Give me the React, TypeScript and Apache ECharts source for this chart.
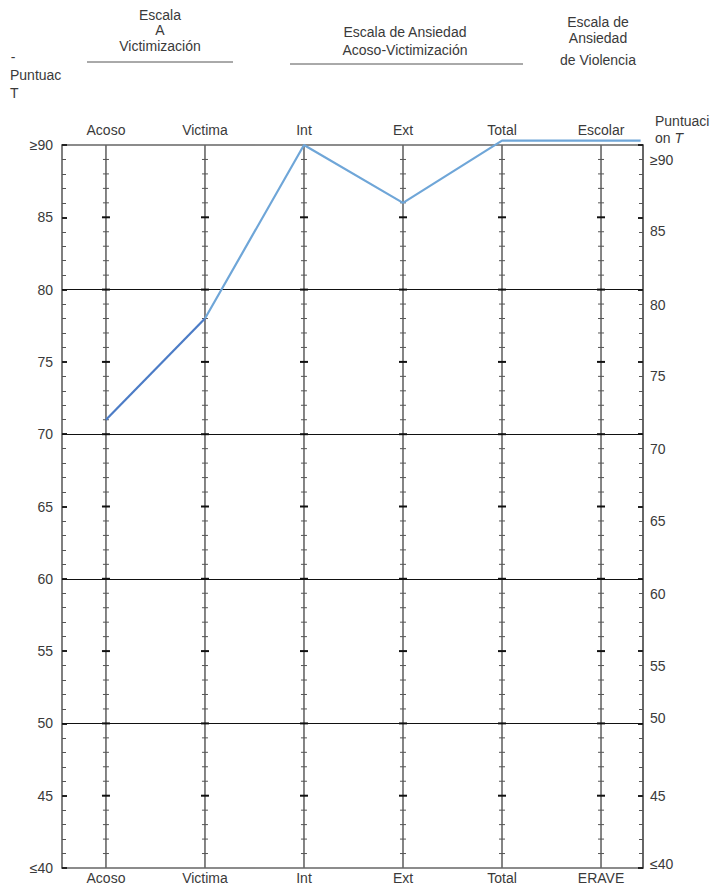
import React, { useEffect, useRef } from "react";
import * as echarts from "echarts";

// ---- data ----
const topLabels = ["Acoso", "Victima", "Int", "Ext", "Total", "Escolar"];
const bottomLabels = ["Acoso", "Victima", "Int", "Ext", "Total", "ERAVE"];
const categoryPositions = [0, 1, 2, 3, 4, 5];
// first segment (Acoso -> Victima), drawn darker
const scoresA: [number, number][] = [
  [0, 71],
  [1, 78],
];
// rest of the profile
const scoresB: [number, number][] = [
  [1, 78],
  [2, 90],
  [3, 86],
  [4, 90.3],
  [5, 90.3],
  [5.4, 90.3],
];
const yTickValues = [40, 45, 50, 55, 60, 65, 70, 75, 80, 85, 90];
const refLines = [80, 70, 60, 50];
// offset of each right-hand label from its tick (as in the scan)
const rightLabelShift: Record<number, number> = {
  90: 15, 85: 14, 80: 15, 75: 14, 70: 15, 65: 14, 60: 15, 55: 15, 50: -5, 45: 0, 40: -4,
};

const FONT = '"Liberation Sans", Arial, sans-serif';
const TXT = "#3a3a3a";
const FS = 14;

function yLabel(v: number) {
  if (v === 90) return "≥90";
  if (v === 40) return "≤40";
  return String(v);
}

export default function App() {
  const ref = useRef<HTMLDivElement>(null);
  useEffect(() => {
    if (!ref.current) return;
    const chart = echarts.init(ref.current, null, { renderer: "svg" });

    const rich: Record<string, any> = {};
    yTickValues.forEach((v) => {
      const s = rightLabelShift[v] || 0;
      rich["o" + v] = {
        fontSize: FS,
        fontFamily: FONT,
        color: TXT,
        padding: s >= 0 ? [2 * s, 0, 0, 0] : [0, 0, -2 * s, 0],
      };
    });

    const txt = (text: string, x: number, y: number, align = "center") => ({
      type: "text",
      silent: true,
      style: { text, x, y, textAlign: align, textVerticalAlign: "middle", fill: TXT, font: `${FS}px ${FONT}` },
    });

    const option: any = {
      animation: false,
      backgroundColor: "#ffffff",
      textStyle: { fontFamily: FONT },
      grid: { left: 62, right: 77, top: 145, bottom: 18, containLabel: false },
      xAxis: [
        {
          type: "value",
          position: "bottom",
          min: -0.444,
          max: 5.424,
          axisLine: { show: true, onZero: false, lineStyle: { color: "#666", width: 1.5 } },
          axisTick: { show: false },
          splitLine: { show: false },
          axisLabel: {
            show: true,
            customValues: categoryPositions,
            formatter: (v: number) => bottomLabels[Math.round(v)] ?? "",
            color: TXT,
            fontSize: FS,
            fontFamily: FONT,
            margin: 3,
          },
        },
        {
          type: "value",
          position: "top",
          min: -0.444,
          max: 5.424,
          axisLine: { show: true, onZero: false, lineStyle: { color: "#666", width: 1.5 } },
          axisTick: { show: false },
          splitLine: { show: false },
          axisLabel: {
            show: true,
            customValues: categoryPositions,
            formatter: (v: number) => topLabels[Math.round(v)] ?? "",
            color: TXT,
            fontSize: FS,
            fontFamily: FONT,
            margin: 8,
          },
        },
      ],
      yAxis: [
        {
          type: "value",
          position: "left",
          min: 40,
          max: 90,
          interval: 5,
          axisLine: { show: true, onZero: false, lineStyle: { color: "#555", width: 1.5 } },
          axisTick: { show: true, inside: true, length: 5, lineStyle: { color: "#222", width: 2 } },
          minorTick: { show: true, splitNumber: 5, length: 4, lineStyle: { color: "#555", width: 1 } },
          splitLine: { show: false },
          axisLabel: {
            formatter: yLabel,
            color: TXT,
            fontSize: FS,
            fontFamily: FONT,
            margin: 9,
          },
        },
        {
          type: "value",
          position: "right",
          min: 40,
          max: 90,
          interval: 5,
          axisLine: { show: true, onZero: false, lineStyle: { color: "#333", width: 1.5 } },
          axisTick: { show: true, inside: true, length: 5, lineStyle: { color: "#222", width: 2 } },
          minorTick: { show: true, splitNumber: 5, length: 4, lineStyle: { color: "#555", width: 1 } },
          splitLine: { show: false },
          axisLabel: {
            formatter: (v: number) => `{o${v}|${yLabel(v)}}`,
            rich,
            color: TXT,
            fontSize: FS,
            fontFamily: FONT,
            margin: 7,
          },
        },
      ],
      series: [
        {
          type: "custom",
          name: "cats",
          silent: true,
          clip: false,
          xAxisIndex: 0,
          yAxisIndex: 0,
          encode: { x: 0 },
          data: categoryPositions.map((x) => [x]),
          renderItem: (params: any, api: any) => {
            const x = api.value(0);
            const top = api.coord([x, 90]);
            const bot = api.coord([x, 40]);
            const children: any[] = [
              {
                type: "line",
                shape: { x1: top[0], y1: top[1], x2: bot[0], y2: bot[1] },
                style: { stroke: "#666", lineWidth: 1.6 },
              },
            ];
            for (let v = 41; v < 90; v++) {
              const p = api.coord([x, v]);
              const major = v % 5 === 0;
              const h = major ? 4 : 3;
              children.push({
                type: "line",
                shape: { x1: p[0] - h, y1: p[1], x2: p[0] + h, y2: p[1] },
                style: { stroke: major ? "#111" : "#555", lineWidth: major ? 2 : 1 },
              });
            }
            return { type: "group", children };
          },
          markLine: {
            silent: true,
            symbol: "none",
            label: { show: false },
            lineStyle: { color: "#111", width: 1, type: "solid" },
            data: refLines.map((v) => ({ yAxis: v })),
          },
          z: 2,
        },
        {
          type: "line",
          name: "A",
          data: scoresA,
          symbol: "none",
          clip: false,
          lineStyle: { color: "#4c7cc6", width: 2.2 },
          z: 5,
        },
        {
          type: "line",
          name: "B",
          data: scoresB,
          symbol: "none",
          clip: false,
          lineStyle: { color: "#6fa6d8", width: 2.2 },
          z: 5,
        },
      ],
      graphic: [
        txt("Escala", 160, 15),
        txt("A", 160, 30),
        txt("Victimización", 160, 46),
        { type: "line", silent: true, shape: { x1: 87, y1: 62, x2: 233, y2: 62 }, style: { stroke: "#555", lineWidth: 1 } },
        txt("Escala de Ansiedad", 405, 32),
        txt("Acoso-Victimización", 405, 50),
        { type: "line", silent: true, shape: { x1: 290, y1: 64, x2: 523, y2: 64 }, style: { stroke: "#555", lineWidth: 1 } },
        txt("Escala de", 598, 22),
        txt("Ansiedad", 598, 38),
        txt("de Violencia", 598, 60),
        txt("-", 13, 57),
        txt("Puntuac", 10, 75, "left"),
        txt("T", 10, 93, "left"),
        txt("Puntuaci", 655, 121, "left"),
        {
          type: "text",
          silent: true,
          style: {
            text: "{a|on }{b|T}", x: 655, y: 138, textAlign: "left", textVerticalAlign: "middle", fill: TXT, font: `${FS}px ${FONT}`,
            rich: { a: { fontSize: FS, fontFamily: FONT, fill: TXT }, b: { fontSize: FS, fontFamily: FONT, fontStyle: "italic", fill: TXT } },
          },
        },
      ],
    };

    chart.setOption(option);
    return () => chart.dispose();
  }, []);

  return (
    <div
      ref={ref}
      style={{ position: "fixed", left: 0, top: 0, width: 720, height: 886, background: "#fff" }}
    />
  );
}
